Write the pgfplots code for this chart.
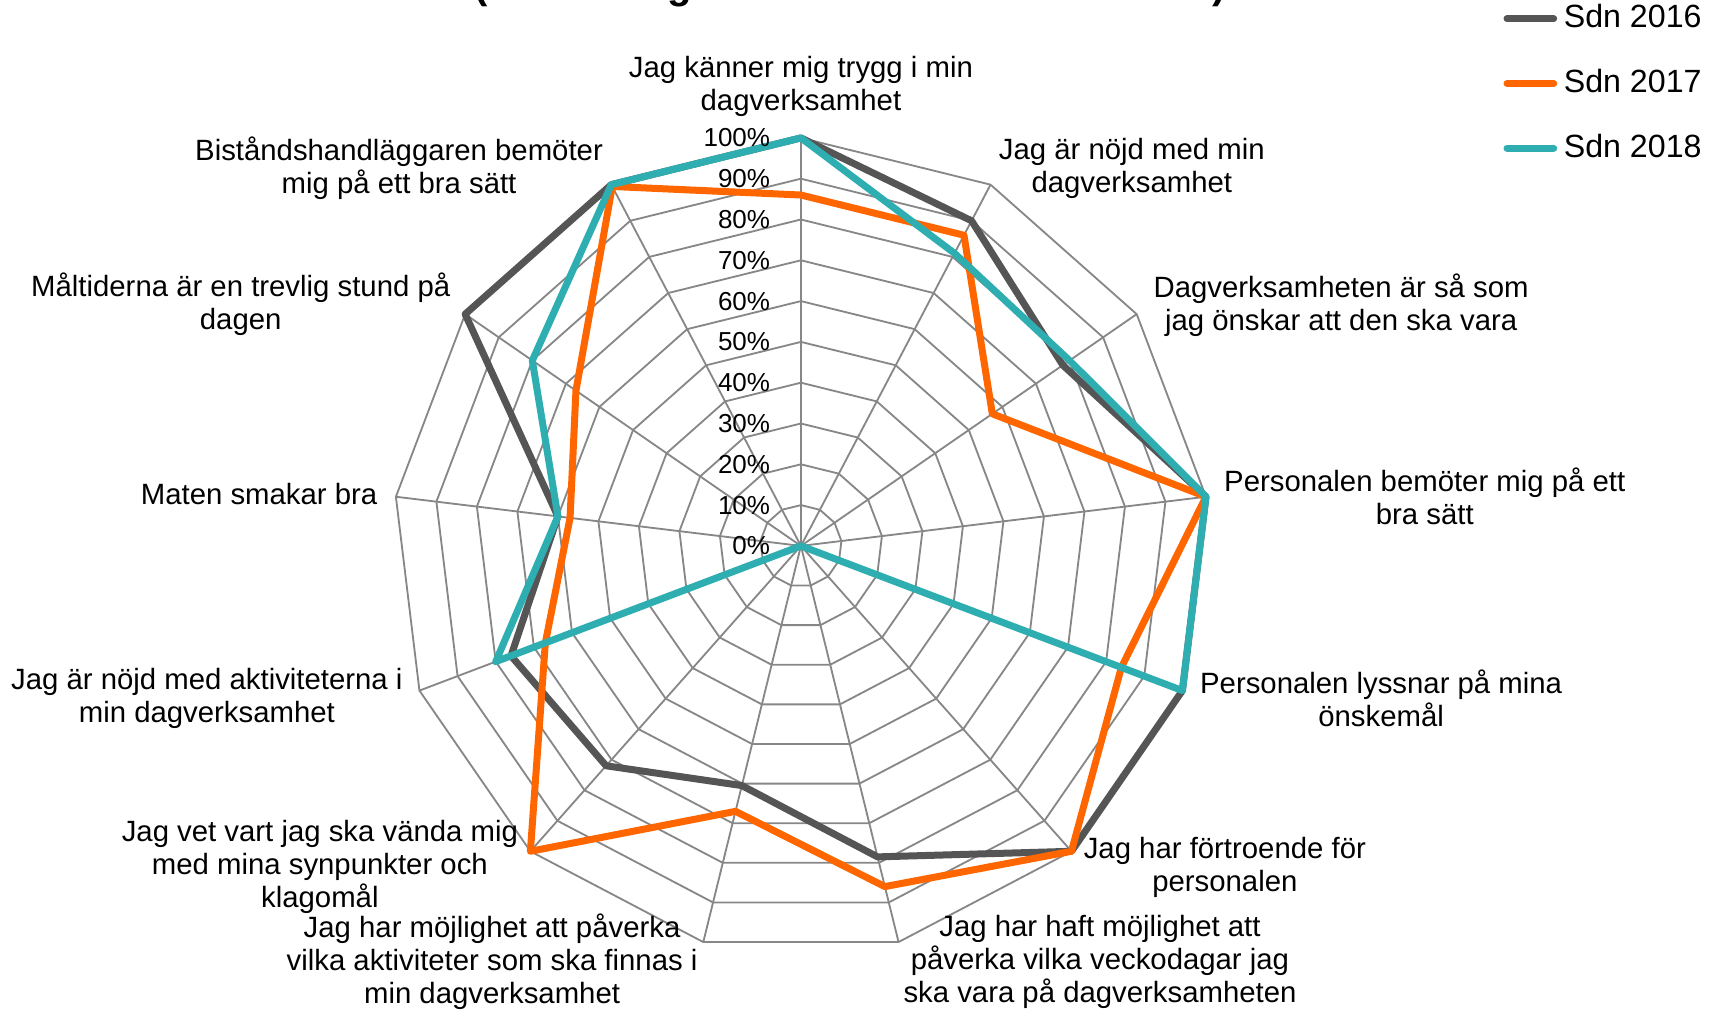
\documentclass[border=0pt]{standalone}
\usepackage{fontspec}
\setmainfont{Liberation Sans}
\usepackage{pgfplots}
\pgfplotsset{compat=1.18}
\definecolor{c16}{HTML}{555555}
\definecolor{c17}{HTML}{FF6600}
\definecolor{c18}{HTML}{2EAEB0}
\definecolor{gridc}{HTML}{878787}
\newcommand{\lblfont}{\fontsize{8.8}{9.9}\selectfont}
\newcommand{\tckfont}{\fontsize{7.8}{9}\selectfont}
\begin{document}
\begin{tikzpicture}
\begin{axis}[
  x=1.224pt, y=1.224pt,
  xmin=-196.3, xmax=226.0, ymin=-114.2, ymax=133.8,
  hide axis, clip=false,
  legend style={at={(axis cs:172.2,134.3)}, anchor=north west, draw=none, fill=none,
    font=\fontsize{9.65}{11}\selectfont, row sep=6.9pt, inner sep=0pt, outer sep=0pt,
    cells={anchor=west, inner xsep=0.8pt}},
  legend image code/.code={\draw[#1, line cap=round] (0pt,0pt) -- (14pt,0pt);},
]
% grid polygons
\pgfplotsinvokeforeach{10,20,30,40,50,60,70,80,90,100}{
  \addplot[gridc, line width=0.55pt, forget plot, data cs=polar] coordinates {
    (90,#1) (62.3077,#1) (34.6154,#1) (6.9231,#1) (-20.7692,#1) (-48.4615,#1) (-76.1538,#1)
    (-103.8462,#1) (-131.5385,#1) (-159.2308,#1) (-186.9231,#1) (-214.6154,#1) (-242.3077,#1)} -- cycle;
}
% spokes
\pgfplotsinvokeforeach{62.3077,34.6154,6.9231,-20.7692,-48.4615,-76.1538,-103.8462,-131.5385,-159.2308,-186.9231,-214.6154,-242.3077}{
  \addplot[gridc, line width=0.55pt, forget plot, data cs=polar] coordinates {(#1,0) (#1,100)};
}
\addplot[gridc, line width=0.85pt, forget plot, data cs=polar] coordinates {(90,0) (90,100)};

% data
\addplot[c16, line width=2.1pt, line join=round, data cs=polar] coordinates {
  (90,100) (62.3077,90) (34.6154,78) (6.9231,100) (-20.7692,100) (-48.4615,100) (-76.1538,78.5)
  (-103.8462,60.5) (-131.5385,72) (-159.2308,76) (-186.9231,60) (-214.6154,100) (-242.3077,100)} -- cycle;
\addlegendentry{Sdn 2016}
\addplot[c17, line width=2.1pt, line join=round, data cs=polar] coordinates {
  (90,86) (62.3077,86) (34.6154,57) (6.9231,100) (-20.7692,84) (-48.4615,100) (-76.1538,86)
  (-103.8462,67) (-131.5385,100) (-159.2308,67) (-186.9231,57) (-214.6154,67) (-242.3077,99.5)} -- cycle;
\addlegendentry{Sdn 2017}
\addplot[c18, line width=2.1pt, line join=round, data cs=polar] coordinates {
  (90,100) (62.3077,81) (34.6154,80) (6.9231,100) (-20.7692,100) (-48.4615,0) (-76.1538,0)
  (-103.8462,0) (-131.5385,0) (-159.2308,80) (-186.9231,60) (-214.6154,80) (-242.3077,100)} -- cycle;
\addlegendentry{Sdn 2018}

% tick labels
\pgfplotsinvokeforeach{0,10,20,30,40,50,60,70,80,90,100}{
  \node[anchor=east, font=\tckfont, inner sep=0pt] at (axis cs:-7.4,#1) {#1\%};
}

% category labels
\node[align=center, font=\lblfont] at (axis cs:0,112.6) {Jag känner mig trygg i min\\dagverksamhet};
\node[align=center, font=\lblfont] at (axis cs:81.1,92.5) {Jag är nöjd med min\\dagverksamhet};
\node[align=center, font=\lblfont] at (axis cs:132.4,59.1) {Dagverksamheten är så som\\jag önskar att den ska vara};
\node[align=center, font=\lblfont] at (axis cs:152.9,12.1) {Personalen bemöter mig på ett\\bra sätt};
\node[align=center, font=\lblfont] at (axis cs:142.2,-37.4) {Personalen lyssnar på mina\\önskemål};
\node[align=center, font=\lblfont] at (axis cs:103.9,-78.8) {Jag har förtroende för\\personalen};
\node[align=center, font=\lblfont] at (axis cs:73.3,-102.0) {Jag har haft möjlighet att\\påverka vilka veckodagar jag\\ska vara på dagverksamheten};
\node[align=center, font=\lblfont] at (axis cs:-75.7,-102.0) {Jag har möjlighet att påverka\\vilka aktiviteter som ska finnas i\\min dagverksamhet};
\node[align=center, font=\lblfont] at (axis cs:-117.9,-78.7) {Jag vet vart jag ska vända mig\\med mina synpunkter och\\klagomål};
\node[align=center, font=\lblfont] at (axis cs:-145.6,-37.3) {Jag är nöjd med aktiviteterna i\\min dagverksamhet};
\node[align=center, font=\lblfont] at (axis cs:-132.8,12.6) {Maten smakar bra};
\node[align=center, font=\lblfont] at (axis cs:-137.3,59.2) {Måltiderna är en trevlig stund på\\dagen};
\node[align=center, font=\lblfont] at (axis cs:-98.5,92.5) {Biståndshandläggaren bemöter\\mig på ett bra sätt};

% title (cut off at the top edge in the reference)
\node[anchor=base, font=\bfseries\fontsize{12}{14}\selectfont, inner sep=0pt] at (axis cs:12.0,134.1) {(Helt eller ganska bra i andel av svaren)};

\coordinate (BL) at (axis cs:-196.3,-114.2);
\coordinate (TR) at (axis cs:226.0,133.8);
\end{axis}
\pgfresetboundingbox
\path[use as bounding box] (BL) rectangle (TR);
\end{tikzpicture}
\end{document}
